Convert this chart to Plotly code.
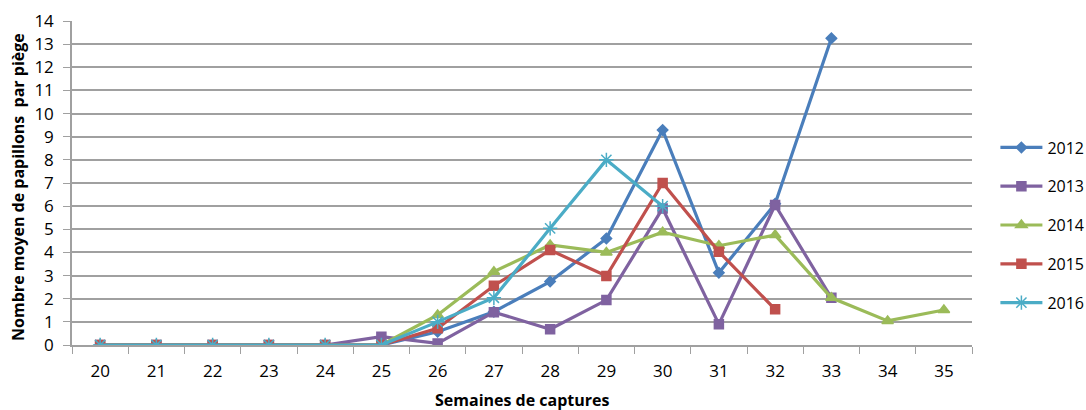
import plotly.graph_objects as go

weeks = [str(w) for w in range(20, 36)]

y2012 = [0, 0, 0, 0, 0, 0, 0.57, 1.44, 2.74, 4.6, 9.29, 3.12, 6.1, 13.25]
y2013 = [0, 0, 0, 0, 0, 0.36, 0.07, 1.42, 0.68, 1.94, 5.9, 0.9, 6.05, 2.04]
y2014 = [0, 0, 0, 0, 0, 0, 1.3, 3.17, 4.32, 4.0, 4.87, 4.29, 4.75, 2.04, 1.04, 1.51]
y2015 = [0, 0, 0, 0, 0, 0, 0.72, 2.56, 4.1, 2.98, 7.0, 4.03, 1.54]
y2016 = [0, 0, 0, 0, 0, 0, 1.0, 2.04, 5.04, 8.0, 6.0]

x_title = "Semaines de captures"
y_title = "Nombre moyen de papillons  par piège"

series = [
    ("2012", y2012, "#4A7EBB", "diamond", 8),
    ("2013", y2013, "#7F62A0", "square", 9),
    ("2014", y2014, "#9BBB59", "triangle-up", 10),
    ("2015", y2015, "#C0504D", "square", 9),
    ("2016", y2016, "#4BACC6", "asterisk-open", 12),
]

fig = go.Figure()
for name, vals, color, sym, size in series:
    fig.add_trace(go.Scatter(
        x=weeks[:len(vals)], y=vals, name=name, mode="lines+markers",
        line=dict(color=color, width=3.2),
        marker=dict(symbol=sym, size=size, color=color,
                    line=dict(color=color, width=1.5)),
        legendgroup=name,
    ))

font_family = "Open Sans, Liberation Sans, sans-serif"
fig.update_layout(
    width=1086, height=410,
    margin=dict(l=72, r=114, t=21, b=65, autoexpand=False),
    paper_bgcolor="white", plot_bgcolor="white",
    font=dict(family=font_family, size=16, color="#000000"),
    showlegend=True,
    legend=dict(x=1.026, y=0.662, xanchor="left", yanchor="top",
                font=dict(size=16), tracegroupgap=15, itemwidth=42,
                traceorder="grouped"),
    xaxis=dict(
        type="category", categoryorder="array", categoryarray=weeks,
        range=[-0.5, 15.5], showgrid=False, showline=True, automargin=False,
        linecolor="#A0A0A0", linewidth=1.5, ticks="outside",
        tickson="boundaries", ticklen=7, tickcolor="#A0A0A0",
        tickfont=dict(size=17), zeroline=False, ticklabelstandoff=10,
    ),
    yaxis=dict(
        range=[0, 14], dtick=1, showgrid=True, gridcolor="#A0A0A0",
        gridwidth=1.5, showline=True, linecolor="#A0A0A0", linewidth=1.5,
        automargin=False, ticklabelstandoff=6,
        ticks="outside", ticklen=7, tickcolor="#A0A0A0", zeroline=False,
        tickfont=dict(size=17),
    ),
    annotations=[
        dict(text="<b>" + x_title + "</b>", xref="paper", yref="paper",
             x=0.5, y=-0.17, xanchor="center", yanchor="middle",
             showarrow=False, font=dict(size=16)),
        dict(text="<b>" + y_title + "</b>", xref="paper", yref="paper",
             x=-0.06, y=0.488, xanchor="center", yanchor="middle",
             textangle=-90, showarrow=False, font=dict(size=16)),
    ],
)

fig.write_html(
    "out.html",
    config={"displayModeBar": False},
    post_script=(
        "document.body.style.margin='0';"
        "document.body.style.overflow='hidden';"
        "document.documentElement.style.overflow='hidden';"
    ),
)
